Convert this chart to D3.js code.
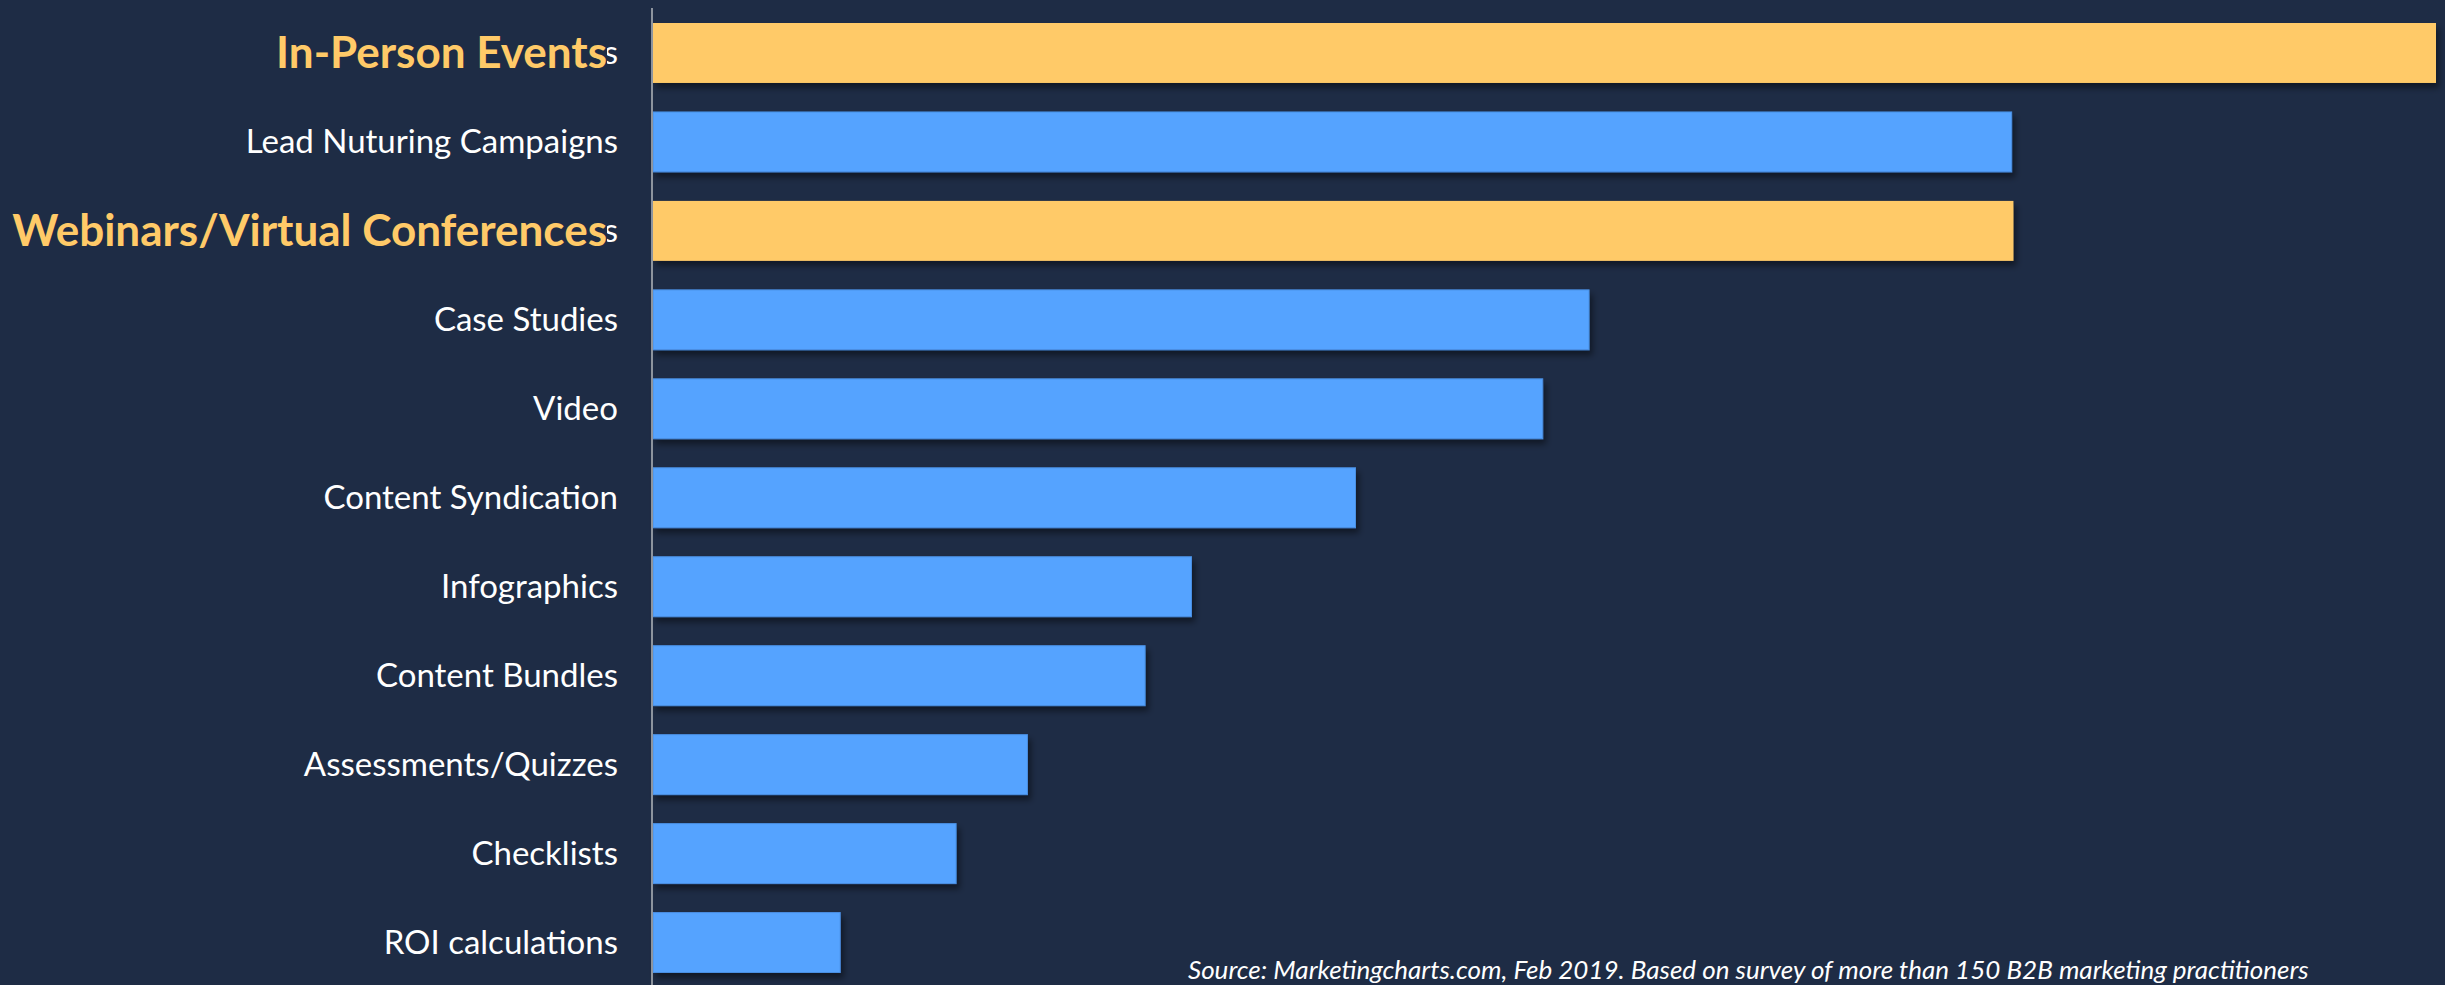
<!DOCTYPE html>
<html>
<head>
<meta charset="utf-8">
<script src="https://cdn.jsdelivr.net/npm/d3@7"></script>
<style>
  html, body { margin: 0; padding: 0; background: #1e2c45; }
  svg { display: block; }
</style>
</head>
<body>
<svg width="2445" height="985"></svg>
<script>
// categories top to bottom
const categories = [
  'In-Person Events',
  'Lead Nuturing Campaigns',
  'Webinars/Virtual Conferences',
  'Case Studies',
  'Video',
  'Content Syndication',
  'Infographics',
  'Content Bundles',
  'Assessments/Quizzes',
  'Checklists',
  'ROI calculations'
];

// relative effectiveness (longest bar = 100)
const values = [100, 76.2, 76.3, 52.5, 49.9, 39.4, 30.2, 27.6, 21.0, 17.0, 10.5];

// categories called out in orange
const highlighted = ['In-Person Events', 'Webinars/Virtual Conferences'];

const source = 'Source: Marketingcharts.com, Feb 2019. Based on survey of more than 150 B2B marketing practitioners';

const bg = '#1e2c45';
const data = categories.map((c, i) => ({ name: c, value: values[i], hi: highlighted.includes(c) }));

const svg = d3.select('svg');
const width = +svg.attr('width');
const height = +svg.attr('height');

svg.append('rect')
  .attr('width', width)
  .attr('height', height)
  .attr('fill', bg);

const defs = svg.append('defs');
const shadow = defs.append('filter')
  .attr('id', 'shadow')
  .attr('x', '-5%').attr('y', '-20%')
  .attr('width', '110%').attr('height', '160%');
shadow.append('feDropShadow')
  .attr('dx', 3)
  .attr('dy', 5)
  .attr('stdDeviation', 3)
  .attr('flood-color', '#000')
  .attr('flood-opacity', 0.45);

const x = d3.scaleLinear()
  .domain([0, 100])
  .range([653, 2436]);

const y = d3.scaleBand()
  .domain(categories)
  .range([23, 972.5])
  .paddingInner(0.326)
  .paddingOuter(0);

// bars
svg.append('g')
  .attr('class', 'bars')
  .selectAll('rect')
  .data(data)
  .enter()
  .append('rect')
    .attr('x', x(0))
    .attr('y', d => y(d.name))
    .attr('width', d => x(d.value) - x(0))
    .attr('height', y.bandwidth())
    .attr('fill', d => d.hi ? '#ffca68' : '#54a3ff')
    .attr('stroke', d => d.hi ? 'none' : '#4a8fe2')
    .attr('stroke-width', 1)
    .attr('filter', 'url(#shadow)');

// axis line
svg.append('line')
  .attr('x1', 652)
  .attr('x2', 652)
  .attr('y1', 8)
  .attr('y2', height)
  .attr('stroke', '#8d949e')
  .attr('stroke-width', 2);

const labels = svg.append('g')
  .attr('class', 'labels')
  .attr('font-family', 'Lato, sans-serif')
  .attr('text-anchor', 'end');

// plain white labels
labels.selectAll('text.plain')
  .data(data.filter(d => !d.hi))
  .enter()
  .append('text')
    .attr('class', 'plain')
    .attr('x', 618)
    .attr('y', d => y(d.name) + y.bandwidth() / 2 + 11)
    .attr('font-size', 33)
    .attr('fill', '#ffffff')
    .text(d => d.name);

// the white label sits behind the callout box, only its tail shows
defs.append('clipPath')
  .attr('id', 'tail')
  .append('rect')
    .attr('x', 607)
    .attr('y', 0)
    .attr('width', 45)
    .attr('height', height);

labels.selectAll('text.under')
  .data(data.filter(d => d.hi))
  .enter()
  .append('text')
    .attr('class', 'under')
    .attr('x', 618)
    .attr('y', d => y(d.name) + y.bandwidth() / 2 + 11)
    .attr('font-size', 33)
    .attr('fill', '#ffffff')
    .attr('clip-path', 'url(#tail)')
    .text(d => d.name);

// orange callouts
labels.selectAll('text.hi')
  .data(data.filter(d => d.hi))
  .enter()
  .append('text')
    .attr('class', 'hi')
    .attr('x', 607)
    .attr('y', d => y(d.name) + y.bandwidth() / 2 + 15)
    .attr('font-size', 44)
    .attr('font-weight', 700)
    .attr('fill', '#ffca68')
    .text(d => d.name);

svg.append('text')
  .attr('x', 1188)
  .attr('y', 979)
  .attr('font-family', 'Lato, sans-serif')
  .attr('font-style', 'italic')
  .attr('font-size', 26)
  .attr('fill', '#ffffff')
  .text(source);
</script>
</body>
</html>
